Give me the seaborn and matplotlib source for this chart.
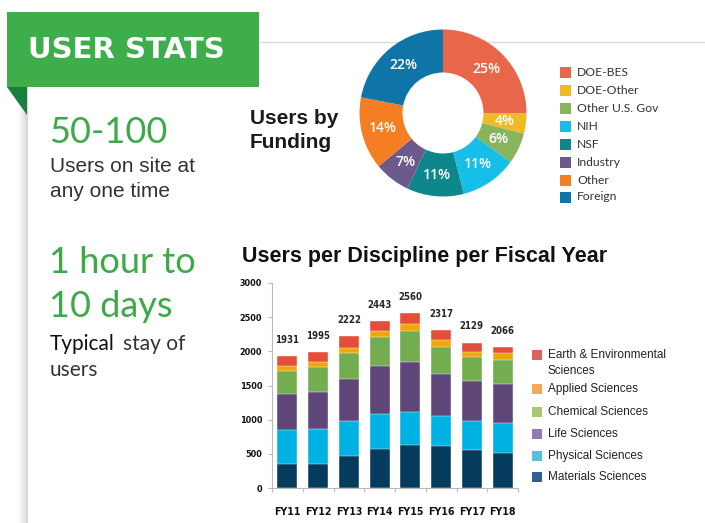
import matplotlib
matplotlib.use('Agg')
import matplotlib.pyplot as plt
from matplotlib import font_manager
from matplotlib.font_manager import FontProperties
import seaborn as sns
import numpy as np
from matplotlib.patches import Rectangle, Polygon

# ---- data ----
fund_names = ['DOE-BES', 'DOE-Other', 'Other U.S. Gov', 'NIH', 'NSF', 'Industry', 'Other', 'Foreign']
fund_pct = [25, 4, 6, 11, 11, 7, 14, 22]
fund_colors = ['#E8664A', '#EFBA26', '#88B45E', '#17BEE8', '#0E878C', '#6D5A8D', '#F47E21', '#0F74A8']

years = ['FY11', 'FY12', 'FY13', 'FY14', 'FY15', 'FY16', 'FY17', 'FY18']
materials = [355, 355, 467, 569, 622, 613, 559, 515]
physical = [491, 515, 515, 515, 496, 442, 423, 438]
life = [525, 535, 618, 696, 730, 613, 584, 569]
chemical = [340, 365, 379, 427, 447, 389, 345, 350]
applied = [78, 73, 73, 88, 102, 102, 82, 97]
earth = [142, 152, 170, 148, 163, 158, 136, 97]
totals = [1931, 1995, 2222, 2443, 2560, 2317, 2129, 2066]

disc_names = ['Earth & Environmental', 'Applied Sciences', 'Chemical Sciences',
              'Life Sciences', 'Physical Sciences', 'Materials Sciences']
bar_colors = ['#E44D37', '#ECA80B', '#74AC50', '#5E4778', '#00B2E3', '#053C5E']
legend_colors = ['#D9655E', '#F8A65A', '#A8C874', '#9477B4', '#5BBFD8', '#2D5F94']

green = '#3DAA47'
W, H = 705, 523

sns.set_theme(style='white')
plt.rcParams['font.family'] = ['Liberation Sans', 'DejaVu Sans']

# condensed bold face for the bar chart numbers, if one is installed
cond = [f for f in font_manager.fontManager.ttflist
        if ('narrow' in f.name.lower() or 'condensed' in f.name.lower()
            or f.stretch in ('condensed', 'semi-condensed'))
        and f.weight in (700, 'bold')]
if cond:
    num_font = FontProperties(fname=cond[0].fname)
    xsize, ysize, lsize = 7.6, 6.5, 6.9
else:
    num_font = FontProperties(family='Liberation Sans', weight='bold')
    xsize, ysize, lsize = 7.8, 6.8, 7.2

fig = plt.figure(figsize=(W / 100, H / 100), dpi=100)
fig.patch.set_facecolor('white')

# background / decoration layer in pixel coordinates
bg = fig.add_axes([0, 0, 1, 1])
bg.set_xlim(0, W)
bg.set_ylim(H, 0)
bg.axis('off')

# left page shadow and top rule
for i, g in enumerate(np.linspace(0.99, 0.84, 10)):
    bg.add_patch(Rectangle((18 + i, 42), 1, H - 42, color=str(g), lw=0, zorder=0))
bg.plot([259, W], [42, 42], color='#DADADA', lw=1, zorder=0)

# banner
bg.add_patch(Rectangle((7, 12), 252, 75, color='#3EAE4B', lw=0, zorder=2))
bg.add_patch(Polygon([(7, 87), (27, 87), (27, 115)], closed=True, color='#17803A', lw=0, zorder=2))
bg.text(28, 58, 'USER STATS', color='white', fontsize=21, fontweight='bold',
        family=['DejaVu Sans'], va='baseline', zorder=3)

# left column stats
lato = ['Lato', 'DejaVu Sans']
bg.text(49, 143, '50-100', color=green, fontsize=26, family=lato, va='baseline')
bg.text(50, 172, 'Users on site at', color='#333333', fontsize=15, va='baseline')
bg.text(50, 197, 'any one time', color='#333333', fontsize=15, va='baseline')
bg.text(49, 273, '1 hour to', color=green, fontsize=26, family=lato, va='baseline')
bg.text(49, 317, '10 days', color=green, fontsize=26, family=lato, va='baseline')
bg.text(50, 350, 'Typical', color='#111111', fontsize=15, family=lato, va='baseline')
bg.text(123, 350, 'stay of', color='#333333', fontsize=15, family=lato, va='baseline')
bg.text(50, 376, 'users', color='#333333', fontsize=15, family=lato, va='baseline')

# headings
bg.text(250, 124, 'Users by', color='#1A1A1A', fontsize=15, fontweight='bold', va='baseline')
bg.text(250, 148, 'Funding', color='#1A1A1A', fontsize=15, fontweight='bold', va='baseline')
bg.text(242, 262, 'Users per Discipline per Fiscal Year', color='#111111', fontsize=15.5,
        fontweight='bold', va='baseline')

# funding legend
fund_leg_y = [72, 90, 108, 126, 144, 162, 180, 197]
for name, col, y in zip(fund_names, fund_colors, fund_leg_y):
    bg.add_patch(Rectangle((560, y - 5.5), 11, 11, color=col, lw=0))
    bg.text(577, y, name, color='#333333', fontsize=8.7, family=lato, va='center')

# discipline legend
disc_leg_y = [355, 389, 412, 434, 456, 477]
for name, col, y in zip(disc_names, legend_colors, disc_leg_y):
    bg.add_patch(Rectangle((532, y - 5), 10, 10, color=col, lw=0))
    bg.text(548, y, name, color='#222222', fontsize=8.5, va='center')
bg.text(548, 371, 'Sciences', color='#222222', fontsize=8.5, va='center')

# ---- donut ----
cx, cy, r = 443, 113, 83.5
half = 90
axd = fig.add_axes([(cx - half) / W, (H - cy - half) / H, 2 * half / W, 2 * half / H])
wedges, _, autotexts = axd.pie(fund_pct, colors=fund_colors, startangle=90, counterclock=False,
                               radius=1, wedgeprops=dict(width=0.515, linewidth=0),
                               autopct=lambda p: f'{p:.0f}%', pctdistance=0.74)
for t in autotexts:
    t.set_color('white')
    t.set_fontsize(10)
    t.set_fontweight('semibold')
    t.set_family(['Open Sans', 'DejaVu Sans'])
lim = half / r
axd.set_xlim(-lim, lim)
axd.set_ylim(-lim, lim)
axd.set_aspect('equal')
axd.axis('off')

# ---- stacked bars ----
left, right, bottom, top = 272, 518, 488, 283
axb = fig.add_axes([left / W, (H - bottom) / H, (right - left) / W, (bottom - top) / H])
axb.set_facecolor('none')

layers = [materials, physical, life, chemical, applied, earth]
cum = np.cumsum(np.array(layers), axis=0)
# draw from the top of the stack down so lower segments sit on top
for k in range(len(layers) - 1, -1, -1):
    sns.barplot(x=years, y=cum[k], color=bar_colors[5 - k], saturation=1, width=0.65,
                edgecolor='white', linewidth=0.3, ax=axb)

lbls = axb.bar_label(axb.containers[0], labels=[str(t) for t in totals], padding=8,
                     fontproperties=num_font)
for t in lbls:
    t.set_fontsize(lsize)

axb.set_ylim(0, 3000)
axb.set_xlim(-0.5, 7.5)
axb.set_yticks(range(0, 3001, 500))
axb.set_xticks(range(8))
axb.set_xticks(np.arange(-0.5, 8, 1), minor=True)
axb.set_xlabel('')
axb.set_ylabel('')
for s in ['top', 'right']:
    axb.spines[s].set_visible(False)
for s in ['left', 'bottom']:
    axb.spines[s].set_color('#BBBBBB')
    axb.spines[s].set_linewidth(0.8)
axb.tick_params(axis='y', which='major', left=True, length=3, width=0.8, color='#BBBBBB', pad=4)
axb.tick_params(axis='x', which='major', bottom=False, pad=8)
axb.tick_params(axis='x', which='minor', bottom=True, length=3, width=0.8, color='#BBBBBB')
for lab in axb.get_xticklabels():
    lab.set_fontproperties(num_font)
    lab.set_fontsize(xsize)
    lab.set_color('#111111')
for lab in axb.get_yticklabels():
    lab.set_fontproperties(num_font)
    lab.set_fontsize(ysize)
    lab.set_color('#111111')

fig.savefig('out.png', dpi=100)
